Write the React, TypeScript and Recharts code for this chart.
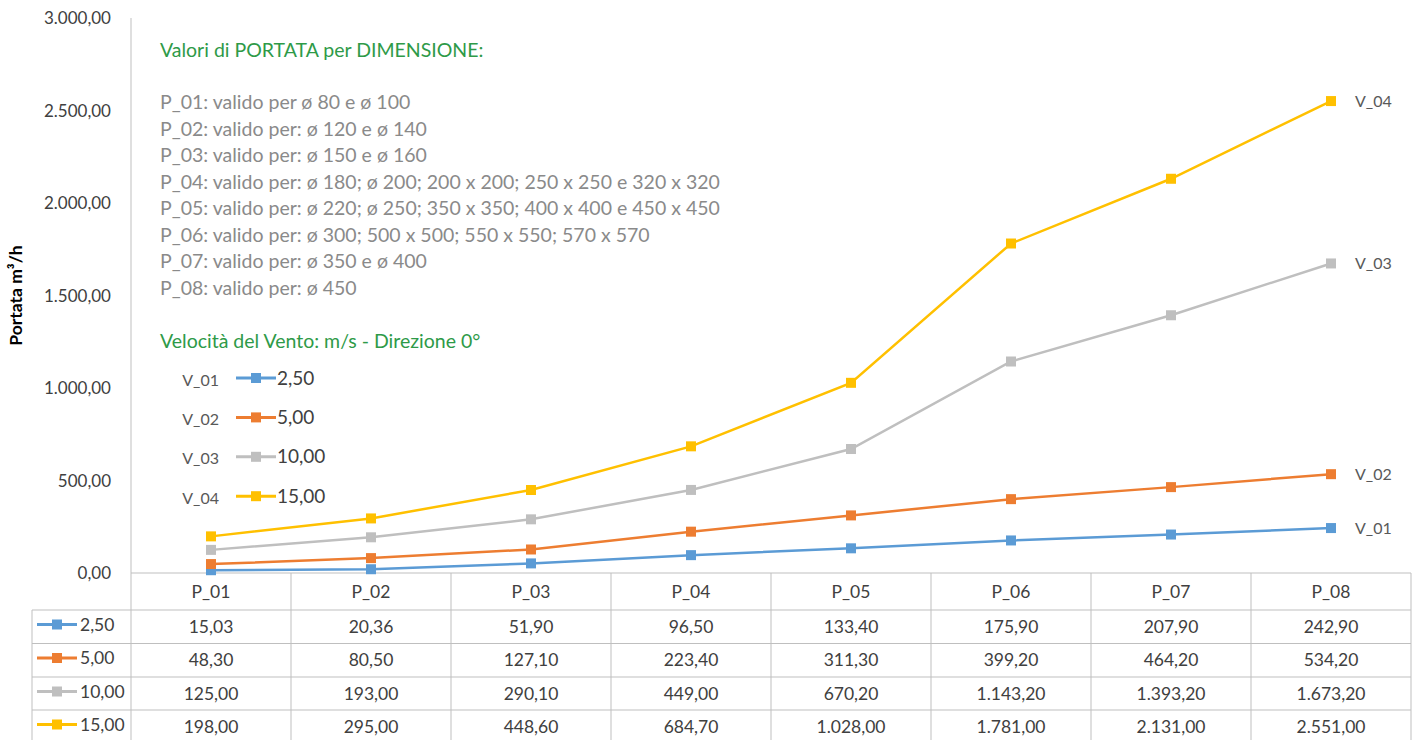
import React from 'react';
import { LineChart, Line, XAxis, YAxis, Legend, LabelList } from 'recharts';

const categories = ['P_01', 'P_02', 'P_03', 'P_04', 'P_05', 'P_06', 'P_07', 'P_08'];
const v01 = [15.03, 20.36, 51.9, 96.5, 133.4, 175.9, 207.9, 242.9];
const v02 = [48.3, 80.5, 127.1, 223.4, 311.3, 399.2, 464.2, 534.2];
const v03 = [125, 193, 290.1, 449, 670.2, 1143.2, 1393.2, 1673.2];
const v04 = [198, 295, 448.6, 684.7, 1028, 1781, 2131, 2551];
const seriesKeys = ['v01', 'v02', 'v03', 'v04'];
const seriesNames = ['V_01', 'V_02', 'V_03', 'V_04'];
const speedLabels = ['2,50', '5,00', '10,00', '15,00'];
const seriesValues = [v01, v02, v03, v04];
const seriesColors = ['#5b9bd5', '#ed7d31', '#bfbfbf', '#ffc000'];
const yTicks = [0, 500, 1000, 1500, 2000, 2500, 3000];
const titleText = 'Valori di PORTATA per DIMENSIONE:';
const infoLines = [
  'P_01: valido per ø 80 e ø 100',
  'P_02: valido per: ø 120 e ø 140',
  'P_03: valido per: ø 150 e ø 160',
  'P_04: valido per: ø 180; ø 200; 200 x 200; 250 x 250 e 320 x 320',
  'P_05: valido per: ø 220; ø 250; 350 x 350; 400 x 400 e 450 x 450',
  'P_06: valido per: ø 300; 500 x 500; 550 x 550; 570 x 570',
  'P_07: valido per: ø 350 e ø 400',
  'P_08: valido per: ø 450',
];
const windTitle = 'Velocità del Vento: m/s - Direzione 0°';
const yAxisTitle = 'Portata m³/h';

const data = categories.map((c, i) => ({
  name: c,
  v01: v01[i],
  v02: v02[i],
  v03: v03[i],
  v04: v04[i],
}));

const FONT = 'Lato, "Open Sans", sans-serif';
const GRID = '#bfbfbf';
const TXT = '#404040';

function fmt(v: number): string {
  const fixed = v.toFixed(2);
  const [ip, dp] = fixed.split('.');
  const withDots = ip.replace(/\B(?=(\d{3})+(?!\d))/g, '.');
  return withDots + ',' + dp;
}

const ROW_LINES = [37, 70.5, 104, 137, 170];
const ROW_CENTERS = [53.5, 87, 120.5, 153.5];

const TableTick = (props: any) => {
  const { x, y, payload, index, width } = props;
  const n = categories.length;
  const colW = (width && width > 0 ? width : 1280) / n;
  const left = x - colW / 2;
  const right = x + colW / 2;
  const els: any[] = [];
  els.push(<line key="vl" x1={left} y1={y} x2={left} y2={y + 170} stroke={GRID} strokeWidth={1} />);
  if (index === n - 1) {
    els.push(<line key="vr" x1={right} y1={y} x2={right} y2={y + 170} stroke={GRID} strokeWidth={1} />);
  }
  ROW_LINES.forEach((o, k) => {
    els.push(<line key={'h' + k} x1={left} y1={y + o} x2={right} y2={y + o} stroke={GRID} strokeWidth={1} />);
  });
  els.push(
    <text key="hdr" x={x} y={y + 19} dy="0.35em" textAnchor="middle" fill={TXT} fontSize={17.5} fontFamily={FONT}>
      {payload.value}
    </text>
  );
  seriesValues.forEach((vals, k) => {
    els.push(
      <text key={'c' + k} x={x} y={y + ROW_CENTERS[k]} dy="0.35em" textAnchor="middle" fill={TXT} fontSize={17.5} fontFamily={FONT}>
        {fmt(vals[index])}
      </text>
    );
  });
  if (index === 0) {
    const x0 = 32;
    els.push(<line key="lv" x1={x0} y1={y + 37} x2={x0} y2={y + 170} stroke={GRID} strokeWidth={1} />);
    ROW_LINES.forEach((o, k) => {
      els.push(<line key={'lh' + k} x1={x0} y1={y + o} x2={left} y2={y + o} stroke={GRID} strokeWidth={1} />);
    });
    seriesColors.forEach((col, k) => {
      const cy = y + ROW_CENTERS[k] - 2;
      els.push(<line key={'ls' + k} x1={x0 + 5} y1={cy} x2={x0 + 45} y2={cy} stroke={col} strokeWidth={3} />);
      els.push(<rect key={'lm' + k} x={x0 + 20} y={cy - 5} width={10} height={10} fill={col} />);
      els.push(
        <text key={'lt' + k} x={x0 + 48} y={cy} dy="0.35em" textAnchor="start" fill={TXT} fontSize={17.5} fontFamily={FONT}>
          {speedLabels[k]}
        </text>
      );
    });
  }
  return <g>{els}</g>;
};

const makeDot = (color: string) => (props: any) => {
  const { cx, cy, index } = props;
  if (cx == null || cy == null) return <g key={'d' + index} />;
  return <rect key={'d' + index} x={cx - 5} y={cy - 5} width={10} height={10} fill={color} />;
};

const makeEndLabel = (name: string) => (props: any) => {
  const { x, y, index } = props;
  if (index !== categories.length - 1) return null;
  return (
    <text x={x + 24} y={y} dy="0.35em" fill="#595959" fontSize={16} fontFamily={FONT} textAnchor="start">
      {name}
    </text>
  );
};

const LegendContent = () => (
  <svg width={200} height={160} style={{ overflow: 'visible', display: 'block' }}>
    {seriesNames.map((nm, i) => {
      const ly = 13 + i * 39.4;
      return (
        <g key={nm}>
          <text x={54} y={ly + 7.5} textAnchor="end" fill="#595959" fontSize={16} fontFamily={FONT}>
            {nm}
          </text>
          <line x1={71} y1={ly} x2={111} y2={ly} stroke={seriesColors[i]} strokeWidth={3} />
          <rect x={86} y={ly - 5} width={10} height={10} fill={seriesColors[i]} />
          <text x={112} y={ly + 6.5} textAnchor="start" fill={TXT} fontSize={19} fontFamily={FONT}>
            {speedLabels[i]}
          </text>
        </g>
      );
    })}
  </svg>
);

export default function App() {
  return (
    <div style={{ position: 'absolute', left: 0, top: 0, width: 1422, height: 740, background: '#fff' }}>
      <LineChart width={1422} height={740} data={data} margin={{ top: 18, right: 11, left: 0, bottom: 0 }}>
        <XAxis
          dataKey="name"
          scale="point"
          padding={{ left: 80, right: 80 }}
          height={167}
          tickSize={0}
          tickMargin={0}
          tickLine={false}
          axisLine={{ stroke: GRID, strokeWidth: 1 }}
          tick={<TableTick />}
          interval={0}
        />
        <YAxis
          domain={[0, 3000]}
          ticks={yTicks}
          width={131}
          tickLine={false}
          tickMargin={14}
          axisLine={{ stroke: GRID, strokeWidth: 1 }}
          tickFormatter={(v: number) => fmt(v)}
          tick={{ fill: TXT, fontSize: 17, fontFamily: FONT }}
          label={{
            value: yAxisTitle,
            angle: -90,
            position: 'insideLeft',
            offset: 16,
            style: { textAnchor: 'middle', fill: '#000', fontSize: 17.5, fontWeight: 700, fontFamily: FONT },
          }}
        />
        <Legend
          layout="vertical"
          align="center"
          verticalAlign="middle"
          content={<LegendContent />}
          wrapperStyle={{ position: 'absolute', left: 165, top: 365, width: 200, height: 160 }}
        />
        {seriesKeys.map((k, i) => (
          <Line
            key={k}
            type="linear"
            dataKey={k}
            name={seriesNames[i]}
            stroke={seriesColors[i]}
            strokeWidth={2.5}
            dot={makeDot(seriesColors[i])}
            activeDot={false}
            isAnimationActive={false}
          >
            <LabelList dataKey={k} content={makeEndLabel(seriesNames[i])} />
          </Line>
        ))}
      </LineChart>
      <svg
        width={1422}
        height={740}
        style={{ position: 'absolute', left: 0, top: 0, pointerEvents: 'none' }}
      >
        <text x={160} y={57} fill="#2e9a48" fontSize={19.5} fontFamily={FONT}>
          {titleText}
        </text>
        {infoLines.map((t, i) => (
          <text key={i} x={160} y={109 + i * 26.5} fill="#8a8a8a" fontSize={19.5} fontFamily={FONT}>
            {t}
          </text>
        ))}
        <text x={160} y={348} fill="#2e9a48" fontSize={19.5} fontFamily={FONT}>
          {windTitle}
        </text>
      </svg>
    </div>
  );
}
